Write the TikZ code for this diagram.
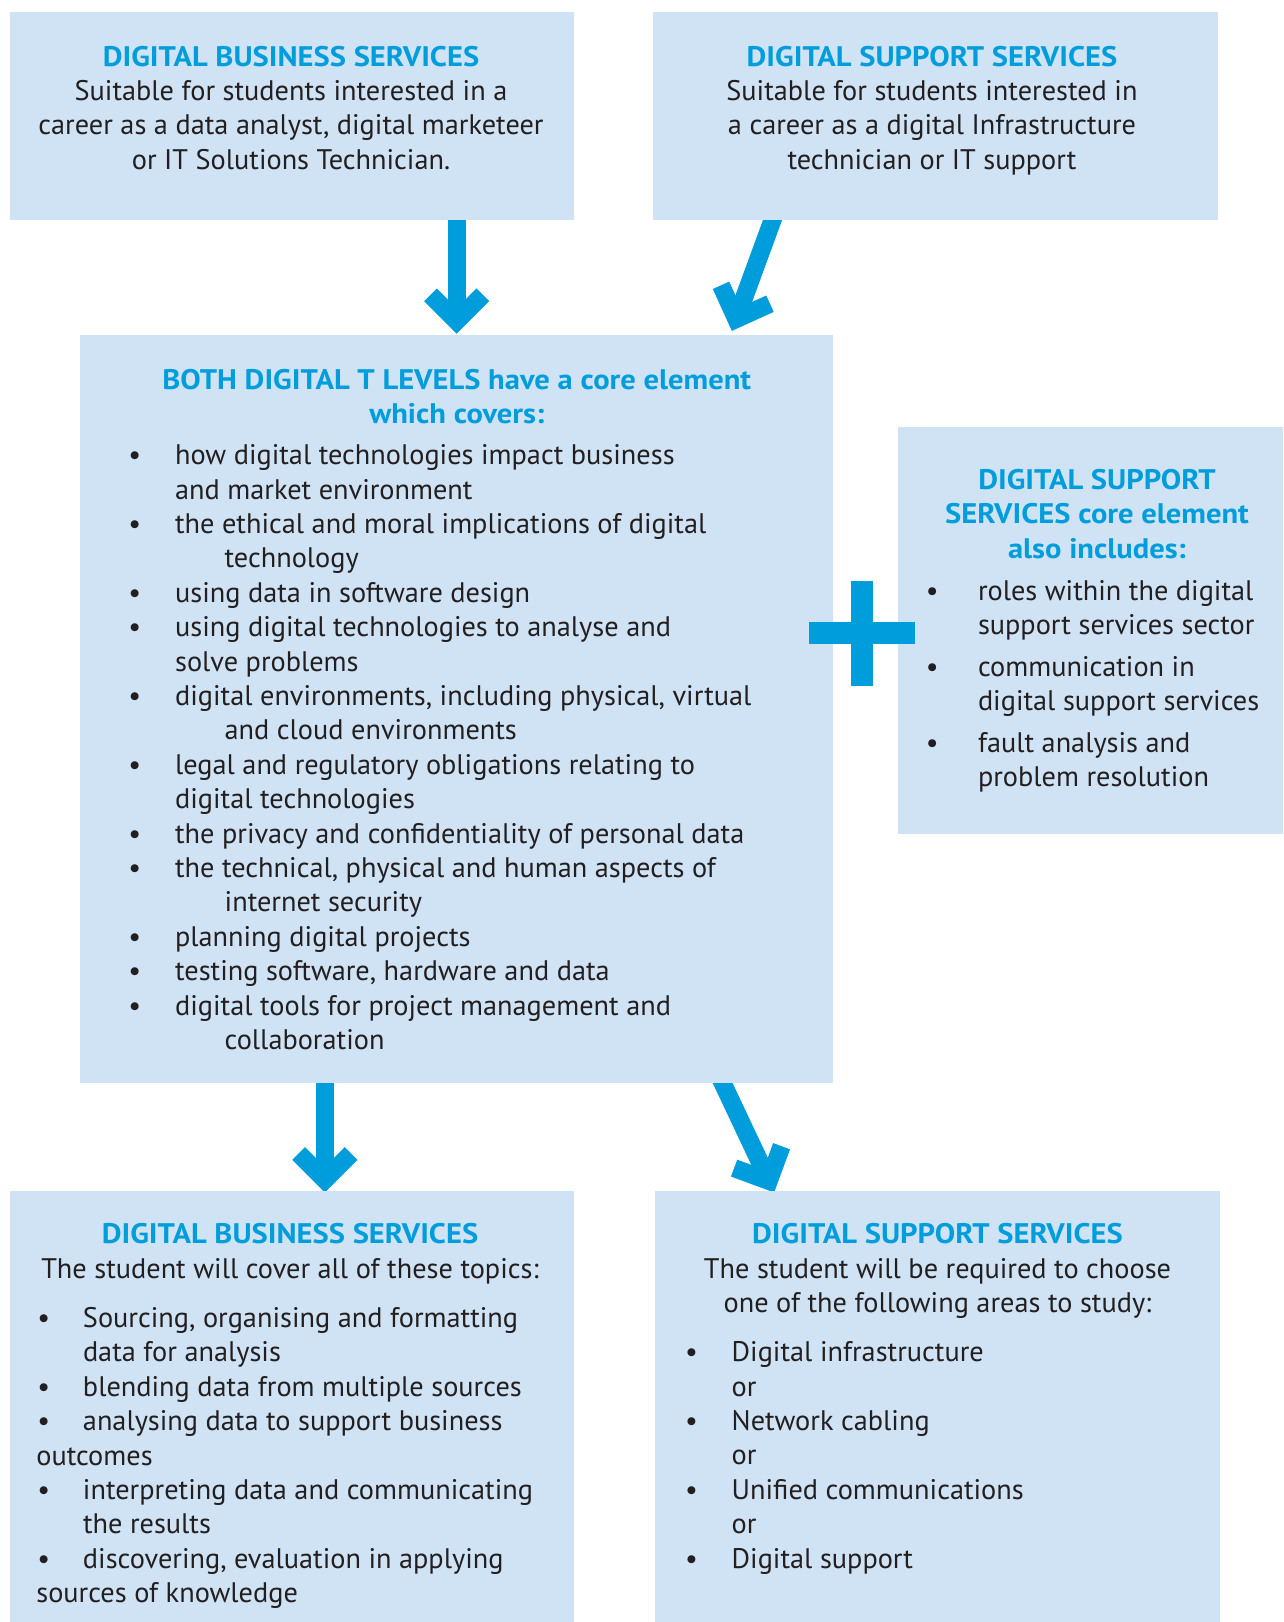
\documentclass[tikz,border=0pt]{standalone}
\usepackage{fontspec}
\setmainfont{PT Sans}[BoldFeatures={FakeStretch=1.08}]
\definecolor{boxfill}{RGB}{207,227,244}
\definecolor{tblue}{RGB}{0,157,220}
\definecolor{ink}{RGB}{35,31,32}
\newcommand\fsz{\fontsize{28.3}{34.4}\selectfont}
\newcommand\bu[2]{\makebox[0pt][c]{\textbullet}\hspace*{#1}#2}
\newcommand\co[2]{\hspace*{#1}#2}
\newcommand\ctext[1]{\parbox[t]{760pt}{\centering\lineskiplimit=-1000pt\leavevmode #1}}
\newcommand\ltext[1]{\parbox[t]{760pt}{\raggedright\lineskiplimit=-1000pt\leavevmode #1}}
\newcommand\ttl[1]{{\bfseries\color{tblue}#1}}
\begin{document}
\begin{tikzpicture}[x=1pt,y=-1pt]
\tikzset{
  box/.style={fill=boxfill, draw=none, inner sep=0pt, outer sep=0pt, anchor=north west},
  shaft/.style={draw=tblue, line width=18pt},
  chevron/.style={draw=tblue, line width=18pt, line join=miter, miter limit=10},
  ctxt/.style={inner sep=0pt, anchor=base, text=ink, font=\fsz},
  ltxt/.style={inner sep=0pt, anchor=base west, text=ink, font=\fsz},
}
\useasboundingbox (0,0) rectangle (1283,1622);
% arrow points
\coordinate (a1s) at (456.7,210);
\coordinate (a1v) at (456.7,321);
\coordinate (a1l) at (430.5,294.8);
\coordinate (a1r) at (482.9,294.8);
\coordinate (a2s) at (776.2,210);
\coordinate (a2v) at (736.3,319);
\coordinate (a2l) at (721.0,285.3);
\coordinate (a2r) at (770.0,303.7);
\coordinate (a3s) at (324.9,1075);
\coordinate (a3v) at (324.9,1179.7);
\coordinate (a3l) at (298.7,1153.5);
\coordinate (a3r) at (351.1,1153.5);
\coordinate (a4s) at (719.3,1076);
\coordinate (a4v) at (768.8,1180.9);
\coordinate (a4l) at (734.1,1168.1);
\coordinate (a4r) at (781.6,1146.2);
% arrows
\draw[shaft] (a1s) -- (a1v);
\draw[chevron] (a1l) -- (a1v) -- (a1r);
\draw[shaft] (a2s) -- (a2v);
\draw[chevron] (a2l) -- (a2v) -- (a2r);
\draw[shaft] (a3s) -- (a3v);
\draw[chevron] (a3l) -- (a3v) -- (a3r);
\draw[shaft] (a4s) -- (a4v);
\draw[chevron] (a4l) -- (a4v) -- (a4r);
% boxes
\node[box, minimum width=564pt, minimum height=208pt] (A) at (10,12) {};
\node[box, minimum width=565pt, minimum height=208pt] (B) at (653,12) {};
\node[box, minimum width=753pt, minimum height=748pt] (C) at (80,335) {};
\node[box, minimum width=385pt, minimum height=407pt] (D) at (898,427) {};
\node[box, minimum width=564pt, minimum height=431pt] (E) at (10,1191) {};
\node[box, minimum width=565pt, minimum height=431pt] (F) at (655,1191) {};
% plus sign
\fill[tblue] (851,581) rectangle (873,686);
\fill[tblue] (809,622) rectangle (915,644);
% texts
\node[ctxt] (At) at (291,66) {\ctext{\ttl{DIGITAL BUSINESS SERVICES}\\
Suitable for students interested in a\\
career as a data analyst, digital marketeer\\
or IT Solutions Technician.}};
\node[ctxt] (Bt) at (932,66) {\ctext{\ttl{DIGITAL SUPPORT SERVICES}\\
Suitable for students interested in\\
a career as a digital Infrastructure\\
technician or IT support}};
\node[ctxt] (Ct) at (456.8,389) {\ctext{\ttl{BOTH DIGITAL T LEVELS have a core element}\\
\ttl{which covers:}}};
\node[ltxt] (Cl) at (134.5,464.6) {\ltext{%
\bu{40.4pt}{how digital technologies impact business}\\
\co{40.4pt}{and market environment}\\
\bu{40.4pt}{the ethical and moral implications of digital}\\
\co{90pt}{technology}\\
\bu{40.4pt}{using data in software design}\\
\bu{40.4pt}{using digital technologies to analyse and}\\
\co{40.4pt}{solve problems}\\
\bu{40.4pt}{digital environments, including physical, virtual}\\
\co{90pt}{and cloud environments}\\
\bu{40.4pt}{legal and regulatory obligations relating to}\\
\co{40.4pt}{digital technologies}\\
\bu{40.4pt}{the privacy and confidentiality of personal data}\\
\bu{40.4pt}{the technical, physical and human aspects of}\\
\co{90pt}{internet security}\\
\bu{40.4pt}{planning digital projects}\\
\bu{40.4pt}{testing software, hardware and data}\\
\bu{40.4pt}{digital tools for project management and}\\
\co{90pt}{collaboration}}};
\node[ctxt] (Dt) at (1097,489.4) {\ctext{\ttl{DIGITAL SUPPORT}\\
\ttl{SERVICES core element}\\
\ttl{also includes:}}};
\node[ltxt] (Dl) at (932,600.1) {\ltext{%
\bu{45.8pt}{roles within the digital}\\
\co{45.8pt}{support services sector}\\[7.2pt]
\bu{45.8pt}{communication in}\\
\co{45.8pt}{digital support services}\\[7.2pt]
\bu{45.8pt}{fault analysis and}\\
\co{45.8pt}{problem resolution}}};
\node[ctxt] (Et) at (290,1243.7) {\ctext{\ttl{DIGITAL BUSINESS SERVICES}\\
The student will cover all of these topics:}};
\node[ltxt] (El) at (43.5,1327.5) {\ltext{%
\bu{39.3pt}{Sourcing, organising and formatting}\\
\co{39.3pt}{data for analysis}\\
\bu{39.3pt}{blending data from multiple sources}\\
\bu{39.3pt}{analysing data to support business}\\
\co{-7.3pt}{outcomes}\\
\bu{39.3pt}{interpreting data and communicating}\\
\co{39.3pt}{the results}\\
\bu{39.3pt}{discovering, evaluation in applying}\\
\co{-7.3pt}{sources of knowledge}}};
\node[ctxt] (Ft) at (937.5,1243.7) {\ctext{\ttl{DIGITAL SUPPORT SERVICES}\\
The student will be required to choose\\
one of the following areas to study:}};
\node[ltxt] (Fl) at (691.2,1361.7) {\ltext{%
\bu{40.3pt}{Digital infrastructure}\\
\co{40.3pt}{or}\\
\bu{40.3pt}{Network cabling}\\
\co{40.3pt}{or}\\
\bu{40.3pt}{Unified communications}\\
\co{40.3pt}{or}\\
\bu{40.3pt}{Digital support}}};
\end{tikzpicture}
\end{document}
